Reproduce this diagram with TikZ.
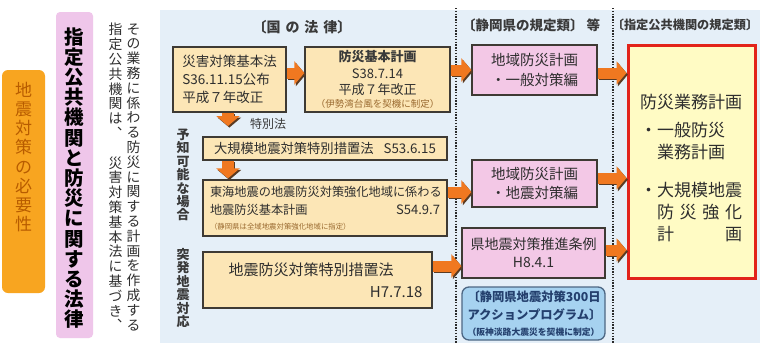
\documentclass[tikz,border=0pt]{standalone}
\usepackage{fontspec}
\setmainfont{Noto Sans CJK JP}
\usetikzlibrary{arrows.meta}
\definecolor{panel}{HTML}{E5EFF8}
\definecolor{yfill}{HTML}{FCE6B6}
\definecolor{pfill}{HTML}{F3C8E6}
\definecolor{rfill}{HTML}{FFFBC4}
\definecolor{rline}{HTML}{E2231A}
\definecolor{bfill}{HTML}{A6D2F0}
\definecolor{bline}{HTML}{4D6784}
\definecolor{oarr}{HTML}{F07820}
\definecolor{oshadow}{HTML}{5B3B22}
\definecolor{txt}{HTML}{2E2E2E}
\definecolor{boxline}{HTML}{3E3A34}
\definecolor{orbox}{HTML}{F8A520}
\definecolor{ortext}{HTML}{B85C00}
\definecolor{titlebar}{HTML}{EFC6EA}
\definecolor{smallbrown}{HTML}{9A6A30}
\definecolor{navy}{HTML}{24406E}
\definecolor{hdrc}{HTML}{3A3A3A}
\definecolor{dotc}{HTML}{2A2A2A}
\newcommand\fillr{\hskip 0pt plus 1filll\relax}
\newcommand\nols{\lineskiplimit-20pt\relax}
\newcommand\orarr[2]{\draw[arrshad] #1 -- #2;\draw[arrmain] #1 -- #2;}
\newcommand\orarrd[2]{\draw[arrshad,line width=12pt] #1 -- #2;\draw[arrmain,line width=12pt] #1 -- #2;}
\begin{document}
\begin{tikzpicture}[x=1pt,y=-1pt,
  every node/.style={inner sep=0pt,text=txt},
  ybox/.style={draw=boxline,fill=yfill,line width=1.3pt},
  pbox/.style={draw=boxline,fill=pfill,line width=1.3pt},
  arrmain/.style={draw=oarr,line width=11pt,-{Triangle[length=10pt,width=23pt]}},
  arrshad/.style={draw=oshadow,line width=11pt,-{Triangle[length=10pt,width=23pt]},transform canvas={shift={(1.4pt,-1.6pt)}}},
  hdr/.style={text=hdrc},
  dotline/.style={draw=dotc,line width=1.4pt,dash pattern=on 1.3pt off 1.5pt},
  vtxt/.style={align=center,font=\fontsize{13.8}{14.8}\selectfont\nols}
]
\useasboundingbox (0,0) rectangle (760,343);
\fill[white] (0,0) rectangle (760,343);
% left column
\node[fill=orbox,rounded corners=6pt,minimum width=43pt,minimum height=223pt] (obox) at (23.5,181.5) {};
\node[align=center,text=ortext,font=\fontsize{17}{19.2}\selectfont\nols] (otext) at (23.5,157) {地\\震\\対\\策\\の\\必\\要\\性};
\node[fill=titlebar,rounded corners=4pt,minimum width=37pt,minimum height=326pt] (tbar) at (74.5,175) {};
\node[align=center,text=black,font=\bfseries\fontsize{19.5}{20.2}\selectfont\nols] (ttext) at (74.5,178) {指\\定\\公\\共\\機\\関\\と\\防\\災\\に\\関\\す\\る\\法\\律};
\node[vtxt] (colr) at (133.5,177) {そ\\の\\業\\務\\に\\係\\わ\\る\\防\\災\\に\\関\\す\\る\\計\\画\\を\\作\\成\\す\\る};
\node[vtxt] (coll) at (115.5,177) {指\\定\\公\\共\\機\\関\\は\\︑\\　\\災\\害\\対\\策\\基\\本\\法\\に\\基\\づ\\き\\︑};
% panel
\fill[panel] (160,10) rectangle (760,343);
\draw[dotline] (456,8) -- (456,343);
\draw[dotline] (613,8) -- (613,343);
% headers
\node[hdr,font=\fontsize{14}{16}\selectfont\bfseries] (h1) at (302,27) {〔国\hspace{5pt}の\hspace{5pt}法\hspace{5pt}律〕};
\node[hdr,font=\fontsize{13.5}{16}\selectfont\bfseries] (h2) at (531,25) {〔静岡県の規定類〕\hspace{3pt}等};
\node[hdr,font=\fontsize{12.2}{15}\selectfont\bfseries] (h3) at (685,25) {〔指定公共機関の規定類〕};
% side labels
\node[align=center,text=hdrc,font=\bfseries\fontsize{13}{13.4}\selectfont\nols] (yochi) at (183,175) {予\\知\\可\\能\\な\\場\\合};
\node[align=center,text=hdrc,font=\bfseries\fontsize{13}{13.4}\selectfont\nols] (toppatsu) at (183,288) {突\\発\\地\\震\\対\\応};
% national law boxes
\node[ybox,minimum width=113pt,minimum height=65pt,align=left,font=\fontsize{13.5}{18}\selectfont] (b1) at (229.5,79.5) {災害対策基本法\\S36.11.15公布\\平成７年改正};
\node[ybox,minimum width=145pt,minimum height=65pt,align=center,font=\fontsize{13}{16.5}\selectfont] (b2) at (377.5,79.5) {{\bfseries\color{hdrc}防災基本計画}\\S38.7.14\\平成７年改正\\[-4pt]{\fontsize{9.5}{12}\selectfont\color{smallbrown}（伊勢湾台風を契機に制定）}};
\node[ybox,minimum width=244pt,minimum height=23pt,font=\fontsize{13.3}{16}\selectfont] (b3) at (325,148.5) {大規模地震対策特別措置法\hspace{10pt}S53.6.15};
\node[ybox,minimum width=244pt,minimum height=56pt,text width=230pt,align=left,font=\fontsize{12.2}{18}\selectfont] (b4) at (325,208) {東海地震の地震防災対策強化地域に係わる\\地震防災基本計画\fillr{\fontsize{13}{18}\selectfont S54.9.7}\hspace*{8pt}\\[-3pt]{\fontsize{7.4}{9}\selectfont\color{smallbrown}（静岡県は全域地震対策強化地域に指定）}};
\node[ybox,minimum width=229pt,minimum height=56pt,text width=214pt,align=left,font=\fontsize{15}{22}\selectfont] (b5) at (317.5,280) {\hspace*{18pt}地震防災対策特別措置法\\\fillr H7.7.18\hspace*{2pt}};
\node[text=hdrc,font=\fontsize{12}{14}\selectfont] (tokubetsu) at (268,124) {特別法};
% prefecture boxes
\node[pbox,minimum width=125pt,minimum height=50pt,align=left,font=\fontsize{14.5}{20}\selectfont] (p1) at (534.5,70) {地域防災計画\\・一般対策編};
\node[pbox,minimum width=125pt,minimum height=47pt,align=left,font=\fontsize{14.5}{19}\selectfont] (p2) at (534.5,183.5) {地域防災計画\\・地震対策編};
\node[pbox,minimum width=143pt,minimum height=50pt,align=center,font=\fontsize{14}{18}\selectfont] (p3) at (533.5,253) {県地震対策推進条例\\H8.4.1};
\node[draw=bline,fill=bfill,line width=1.3pt,rounded corners=7pt,minimum width=143pt,minimum height=53pt,text width=132pt,align=left,text=navy,font=\bfseries\fontsize{12.3}{18}\selectfont] (bl) at (533.5,313.5) {〔静岡県地震対策300日\\アクションプログラム〕\\[-2pt]{\fontsize{8.8}{11}\selectfont（阪神淡路大震災を契機に制定）}};
% designated agencies box
\node[draw=rline,fill=rfill,line width=3pt,minimum width=127pt,minimum height=233pt] (r) at (691.5,161.5) {};
\node[text width=105pt,align=left,font=\fontsize{17}{22}\selectfont] (rt) at (692.5,168.5) {防災業務計画\\[6pt]・一般防災\\\hspace*{17pt}業務計画\\[16pt]・大規模地震\\\hspace*{17pt}\hbox to 85pt{防\hfill 災\hfill 強\hfill 化}\\\hspace*{17pt}\hbox to 85pt{計\hfill 画}};
% arrows
\coordinate (y73) at (0,73);
\coordinate (y70) at (0,70);
\coordinate (y192) at (0,192);
\coordinate (y178) at (0,178);
\coordinate (y266) at (0,266);
\coordinate (y250) at (0,250);
\coordinate (d1) at (228,126);
\orarr{(b1.east |- y73)}{(b2.west |- y73)}
\orarr{(b2.east |- y70)}{(p1.west |- y70)}
\orarr{(p1.east |- y73)}{(r.west |- y73)}
\orarr{(b4.east |- y192)}{(p2.west |- y192)}
\orarr{(p2.east |- y178)}{(r.west |- y178)}
\orarr{(b5.east |- y266)}{(p3.west |- y266)}
\orarr{(p3.east |- y250)}{(r.west |- y250)}
\orarrd{(b1.south -| d1)}{(d1)}
\orarrd{(b3.south -| d1)}{([yshift=1pt]b4.north -| d1)}
\end{tikzpicture}
\end{document}
